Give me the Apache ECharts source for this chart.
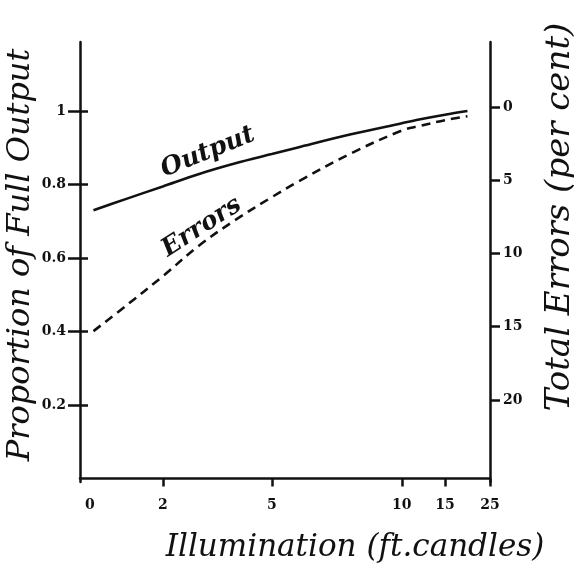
<!DOCTYPE html>
<html>
<head>
<meta charset="utf-8">
<script src="https://cdn.jsdelivr.net/npm/echarts@6/dist/echarts.min.js"></script>
<style>
  html, body { margin: 0; padding: 0; background: #fff; }
  #chart { width: 574px; height: 584px; }
</style>
</head>
<body>
<div id="chart"></div>
<script>
// Illumination tick labels (ft-candles) and the readings along the curves
const illumTicks = [0, 2, 5, 10, 15, 25];
const illumination = [0.1, 1, 2, 3, 4, 5, 6, 8, 10, 12, 15, 20];
const output = [0.73, 0.761, 0.795, 0.829, 0.858, 0.883, 0.901, 0.936, 0.967, 0.977, 0.99, 1.0];
const errors = [15.3, 13.55, 11.55, 9.45, 7.7, 6.15, 5.1, 3.2, 1.6, 1.3, 0.9, 0.63];
const outputTicks = [0.2, 0.4, 0.6, 0.8, 1];
const errorTicks = [0, 5, 10, 15, 20];

// The illumination scale is drawn with uneven spacing: each tick sits at its
// own station along the axis (0..100), values between ticks are linear.
const tickStations = [2.4, 20.2, 46.8, 78.5, 89.0, 100];
function warp(v) {
  for (let i = 1; i < illumTicks.length; i++) {
    if (v <= illumTicks[i]) {
      const a = illumTicks[i - 1], b = illumTicks[i];
      const t = (v - a) / (b - a);
      return tickStations[i - 1] + t * (tickStations[i] - tickStations[i - 1]);
    }
  }
  return tickStations[tickStations.length - 1];
}
function unwarpLabel(s) {
  for (let i = 0; i < tickStations.length; i++) {
    if (Math.abs(tickStations[i] - s) < 0.05) return String(illumTicks[i]);
  }
  return '';
}

const outputData = illumination.map((x, i) => [warp(x), output[i]]);
const errorData = illumination.map((x, i) => [warp(x), errors[i]]);

const ink = '#111';
const tickFont = { color: ink, fontFamily: 'DejaVu Serif', fontWeight: 'bold', fontSize: 14 };
const nameFont = { color: ink, fontFamily: 'DejaVu Serif', fontStyle: 'italic', fontSize: 32 };
const curveFont = { color: ink, fontFamily: 'DejaVu Serif', fontStyle: 'italic', fontWeight: 'bold', fontSize: 25 };

const outMin = -0.0095, outMax = 1.188;
const errMin = -4.44, errMax = 25.6;

const chart = echarts.init(document.getElementById('chart'), null, { renderer: 'canvas' });
chart.setOption({
  backgroundColor: '#fff',
  animation: false,
  grid: { left: 80, right: 84, top: 42, bottom: 102, outerBoundsMode: 'none', containLabel: false },
  xAxis: {
    type: 'value',
    min: 0,
    max: 100,
    splitLine: { show: false },
    axisLine: { lineStyle: { color: ink, width: 2.5 } },
    axisTick: {
      customValues: illumTicks.slice(1).map(warp),
      length: 8,
      lineStyle: { color: ink, width: 2.5 }
    },
    axisLabel: {
      customValues: tickStations,
      formatter: unwarpLabel,
      margin: 16,
      ...tickFont
    },
    name: 'Illumination (ft.candles)',
    nameLocation: 'middle',
    nameGap: 50,
    nameTextStyle: { ...nameFont, fontSize: 31, padding: [0, 0, 0, 140] }
  },
  yAxis: [
    {
      type: 'value',
      position: 'left',
      min: outMin,
      max: outMax,
      splitLine: { show: false },
      axisLine: { show: true, lineStyle: { color: ink, width: 2.5 } },
      axisTick: { customValues: outputTicks, length: 12, lineStyle: { color: ink, width: 2.5 } },
      axisLabel: {
        customValues: outputTicks,
        formatter: v => String(+v.toFixed(1)),
        margin: 14,
        ...tickFont
      },
      name: 'Proportion of Full Output',
      nameLocation: 'middle',
      nameRotate: 90,
      nameGap: 43,
      nameMoveOverlap: false,
      nameTextStyle: { ...nameFont, padding: [0, 0, 0, 14] }
    },
    {
      type: 'value',
      position: 'right',
      inverse: true,
      min: errMin,
      max: errMax,
      splitLine: { show: false },
      axisLine: { show: true, lineStyle: { color: ink, width: 2.5 } },
      axisTick: { customValues: errorTicks, length: 10, lineStyle: { color: ink, width: 2.5 } },
      axisLabel: { customValues: errorTicks, margin: 13, align: 'left', ...tickFont },
      name: 'Total Errors (per cent)',
      nameLocation: 'middle',
      nameRotate: 90,
      nameGap: 53,
      nameMoveOverlap: false,
      nameTextStyle: { ...nameFont, fontSize: 34, padding: [0, 0, 0, 90] }
    },
    {
      // inner half of the crossing ticks on the output axis
      type: 'value',
      position: 'left',
      min: outMin,
      max: outMax,
      splitLine: { show: false },
      axisLine: { show: false },
      axisTick: { show: true, inside: true, customValues: outputTicks, length: 8, lineStyle: { color: ink, width: 2.5 } },
      axisLabel: { show: false }
    }
  ],
  series: [
    {
      name: 'Output',
      type: 'line',
      yAxisIndex: 0,
      data: outputData,
      smooth: 0.35,
      showSymbol: false,
      lineStyle: { color: ink, width: 2.6 },
      markPoint: {
        symbol: 'circle',
        symbolSize: 0,
        data: [{ coord: [warp(3.24), 0.888] }],
        label: { show: true, formatter: 'Output', position: 'inside', rotate: 22, ...curveFont }
      }
    },
    {
      name: 'Errors',
      type: 'line',
      yAxisIndex: 1,
      data: errorData,
      smooth: 0.35,
      showSymbol: false,
      lineStyle: { color: ink, width: 2.6, type: [9, 6] },
      markPoint: {
        symbol: 'circle',
        symbolSize: 0,
        data: [{ coord: [warp(3.07), 8.2] }],
        label: { show: true, formatter: 'Errors', position: 'inside', rotate: 33, ...curveFont }
      }
    }
  ]
});
</script>
</body>
</html>
